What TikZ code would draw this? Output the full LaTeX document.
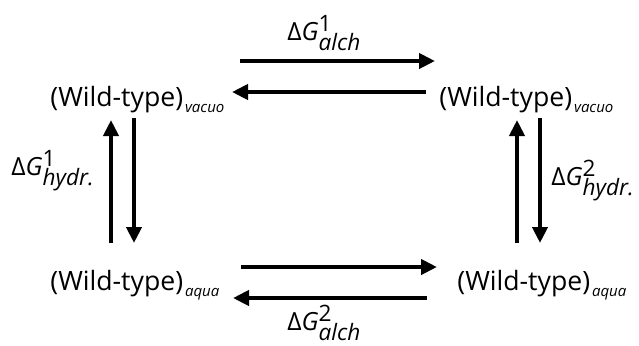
\documentclass[tikz,border=0pt]{standalone}
\usepackage{amsmath}
\usepackage{fontspec}
\setmainfont{Open Sans}
\usetikzlibrary{arrows.meta}

\newcommand{\dGlab}[2]{Δ\textit{G}{\fontsize{11.3}{13}\selectfont\raisebox{4.5pt}{\rlap{#1}}\raisebox{-5.3pt}{\textit{#2}}}}
\newcommand{\phase}[1]{\kern1pt\raisebox{-3pt}{\fontsize{7.5}{8}\selectfont\itshape #1}}

\tikzset{
  state/.style={inner sep=0pt, anchor=base west, font=\fontsize{13.3}{15}\selectfont},
  dglab/.style={inner sep=0pt, anchor=base west, font=\fontsize{12.5}{14}\selectfont},
  flux/.style={line width=2pt, -{Triangle[length=8pt,width=7.5pt]}}
}

\begin{document}
\begin{tikzpicture}[x=0.5pt, y=-0.5pt]
  \useasboundingbox (0,0) rectangle (639,345);

  % les quatre etats
  \node[state] (tl) at (50, 106)  {(Wild-type)\phase{vacuo}};
  \node[state] (tr) at (439, 106) {(Wild-type)\phase{vacuo}};
  \node[state] (bl) at (50, 290)  {(Wild-type)\phase{aqua}};
  \node[state] (br) at (457, 290) {(Wild-type)\phase{aqua}};

  % transformations alchimiques
  \draw[flux] ([xshift=95pt, yshift=22.5pt]tl.base west) -- ([xshift=-2pt, yshift=22.5pt]tr.base west);
  \draw[flux] ([xshift=-6.5pt, yshift=7pt]tr.base west) -- ([xshift=91pt, yshift=7pt]tl.base west);
  \draw[flux] ([xshift=95.5pt, yshift=11.5pt]bl.base west) -- ([xshift=-10pt, yshift=11.5pt]br.base west);
  \draw[flux] ([xshift=-15pt, yshift=-4pt]br.base west) -- ([xshift=91.5pt, yshift=-4pt]bl.base west);

  % hydratation
  \draw[flux] ([xshift=30.5pt, yshift=23.5pt]bl.base west) -- ([xshift=30.5pt, yshift=-7pt]tl.base west);
  \draw[flux] ([xshift=42pt, yshift=-6pt]tl.base west) -- ([xshift=42pt, yshift=23.5pt]bl.base west);
  \draw[flux] ([xshift=30pt, yshift=23.5pt]br.base west) -- ([xshift=39pt, yshift=-7pt]tr.base west);
  \draw[flux] ([xshift=50.5pt, yshift=-6pt]tr.base west) -- ([xshift=41.5pt, yshift=23.5pt]br.base west);

  % energies libres
  \node[dglab] (ga1) at (287, 40)  {\dGlab{1}{alch}};
  \node[dglab] (ga2) at (287, 330) {\dGlab{2}{alch}};
  \node[dglab] (gh1) at (11, 175)  {\dGlab{1}{hydr.}};
  \node[dglab] (gh2) at (551, 185) {\dGlab{2}{hydr.}};
\end{tikzpicture}
\end{document}
